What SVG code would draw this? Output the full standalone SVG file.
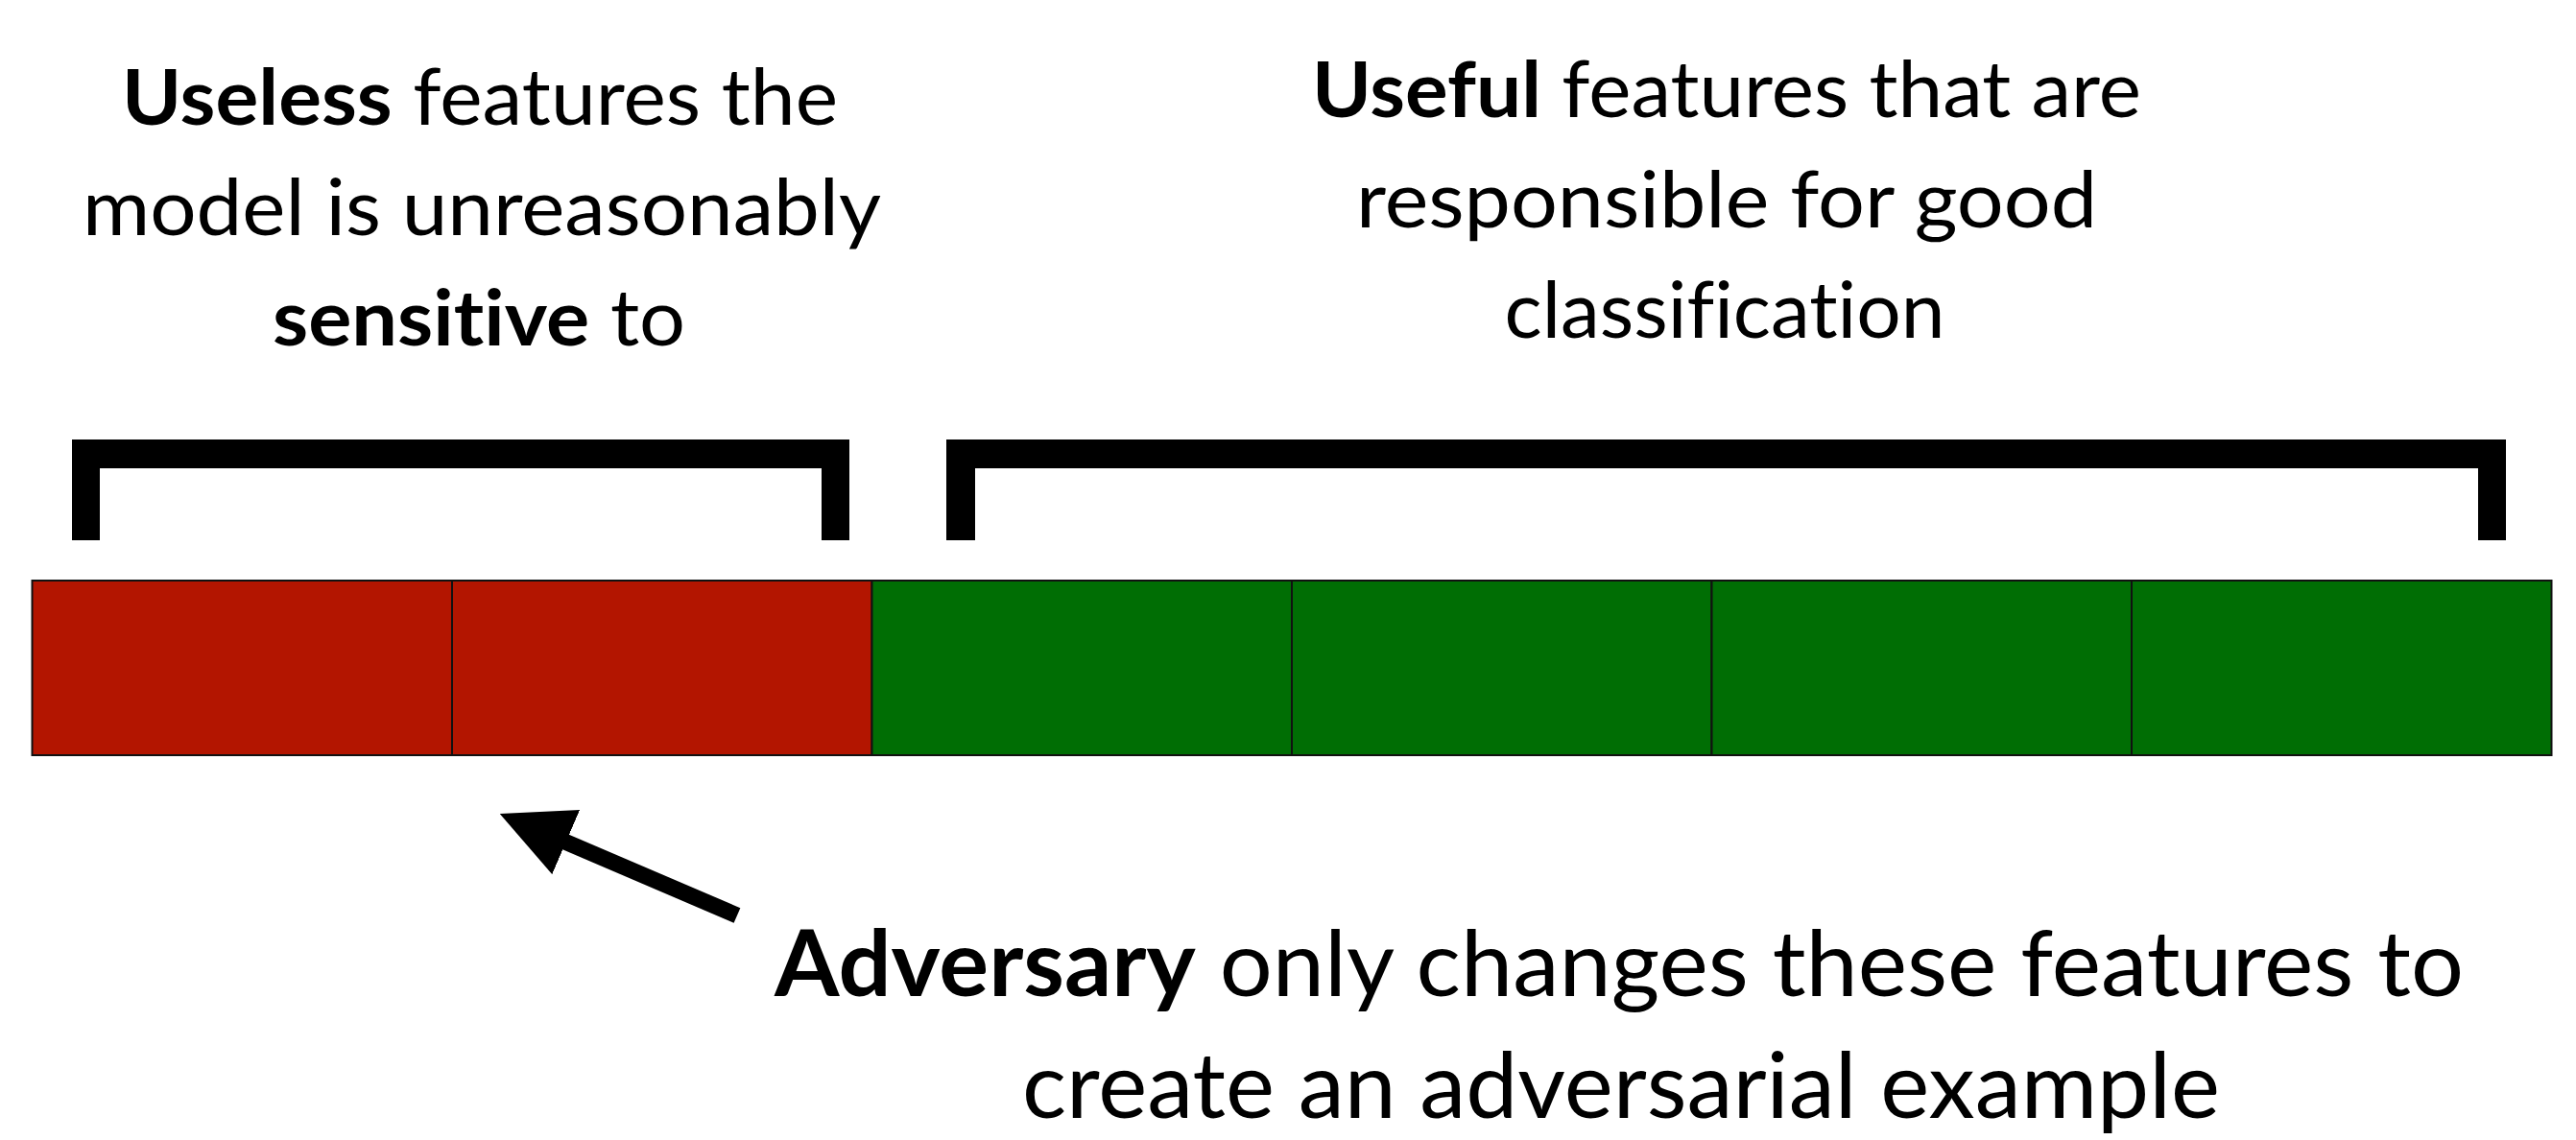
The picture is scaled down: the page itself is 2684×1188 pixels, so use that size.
<svg xmlns="http://www.w3.org/2000/svg" width="2684" height="1188" viewBox="0 0 2684 1188">
<style>
  .t { font-family: Lato, "Open Sans", "Liberation Sans", sans-serif; fill: #000; text-anchor: middle; font-variant-ligatures: none; font-feature-settings: "liga" 0, "clig" 0; }
  .t1 { font-size: 81px; }
  .t3 { font-size: 95px; }
  .b { font-weight: 700; }
  .n { font-weight: 400; }
  .red { fill: #B31500; stroke: #111; stroke-width: 2; }
  .green { fill: #006E04; stroke: #111; stroke-width: 2; }
  .bracket { fill: #000; }
</style>
<defs>
  <marker id="ah" markerUnits="userSpaceOnUse" viewBox="0 0 75 73" markerWidth="75" markerHeight="73" refX="4" refY="36.5" orient="auto">
    <path d="M0,0 L75,36.5 L0,73 z" fill="#000"/>
  </marker>
</defs>
<rect width="2684" height="1188" fill="#fff"/>

<g id="label-useless">
  <text class="t t1" x="500" y="130" textLength="746" lengthAdjust="spacingAndGlyphs"><tspan class="b">Useless</tspan><tspan class="n"> features the</tspan></text>
  <text class="t t1 n" x="502" y="245" textLength="832" lengthAdjust="spacingAndGlyphs">model is unreasonably</text>
  <text class="t t1" x="499" y="360" textLength="430" lengthAdjust="spacingAndGlyphs"><tspan class="b">sensitive</tspan><tspan class="n"> to</tspan></text>
</g>

<g id="label-useful">
  <text class="t t1" x="1799" y="122" textLength="864" lengthAdjust="spacingAndGlyphs"><tspan class="b">Useful</tspan><tspan class="n"> features that are</tspan></text>
  <text class="t t1 n" x="1799" y="237" textLength="772" lengthAdjust="spacingAndGlyphs">responsible for good</text>
  <text class="t t1 n" x="1797" y="352" textLength="459" lengthAdjust="spacingAndGlyphs">classification</text>
</g>

<g id="bracket-useless">
  <path class="bracket" d="M75,458 H885 V563 H856 V488 H104 V563 H75 Z"/>
</g>
<g id="bracket-useful">
  <path class="bracket" d="M986,458 H2611 V563 H2582 V488 H1016 V563 H986 Z"/>
</g>

<g id="feature-bar">
  <rect id="f1" class="red" x="33.5" y="605" width="437.5" height="182"/>
  <rect id="f2" class="red" x="471" y="605" width="437.5" height="182"/>
  <rect id="f3" class="green" x="908.5" y="605" width="437.5" height="182"/>
  <rect id="f4" class="green" x="1346" y="605" width="437.5" height="182"/>
  <rect id="f5" class="green" x="1783.5" y="605" width="437.5" height="182"/>
  <rect id="f6" class="green" x="2221" y="605" width="437.5" height="182"/>
</g>

<g id="connectors">
  <line x1="768" y1="954" x2="586" y2="876" stroke="#000" stroke-width="17" marker-end="url(#ah)"/>
</g>

<g id="label-adversary">
  <text class="t t3" x="1687" y="1038" textLength="1760" lengthAdjust="spacingAndGlyphs"><tspan class="b">Adversary</tspan><tspan class="n"> only changes these features to</tspan></text>
  <text class="t t3 n" x="1689" y="1165" textLength="1248" lengthAdjust="spacingAndGlyphs">create an adversarial example</text>
</g>
</svg>
